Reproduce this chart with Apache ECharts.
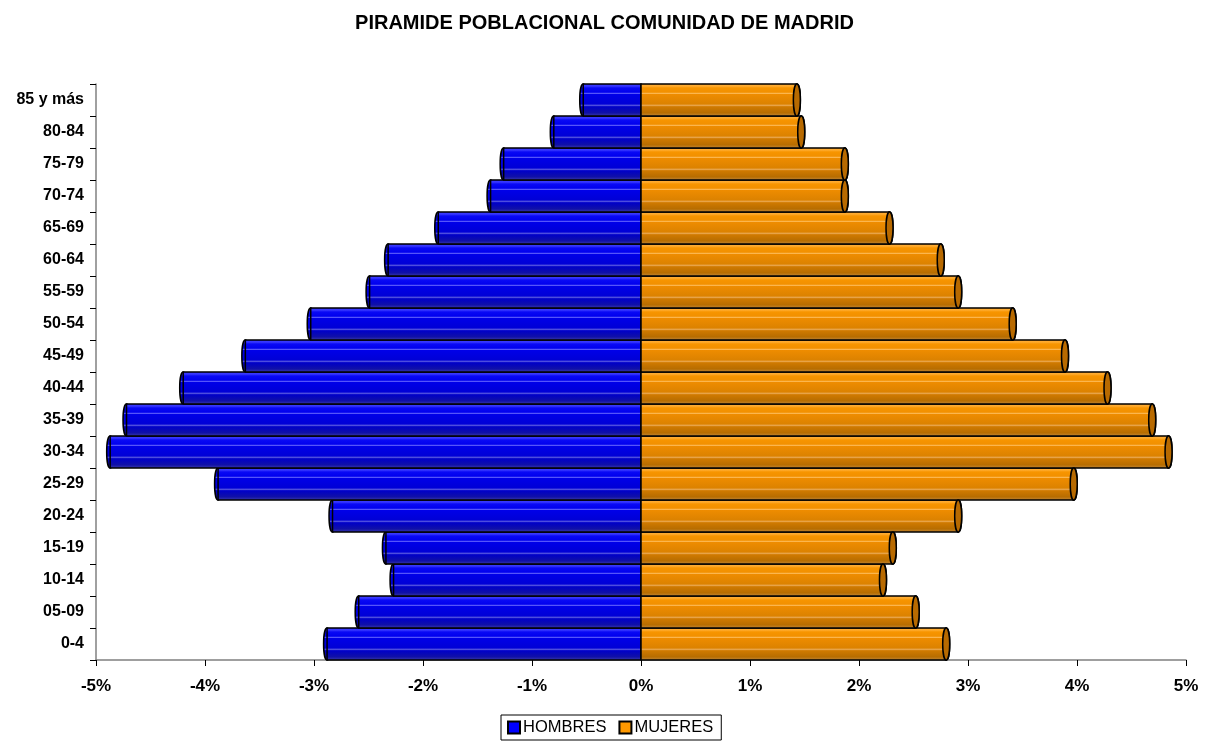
<!DOCTYPE html>
<html>
<head>
<meta charset="utf-8">
<script src="https://cdn.jsdelivr.net/npm/echarts@6/dist/echarts.min.js"></script>
<style>html,body{margin:0;padding:0;background:#fff;}#c{width:1209px;height:743px;}</style>
</head>
<body>
<div id="c"></div>
<script>
const categories = ['0-4','05-09','10-14','15-19','20-24','25-29','30-34','35-39','40-44','45-49','50-54','55-59','60-64','65-69','70-74','75-79','80-84','85 y más'];
const hombres = [-2.88,-2.59,-2.27,-2.34,-2.83,-3.88,-4.87,-4.72,-4.20,-3.63,-3.03,-2.49,-2.32,-1.86,-1.38,-1.26,-0.80,-0.53];
const mujeres = [2.80,2.52,2.22,2.31,2.91,3.97,4.84,4.69,4.28,3.89,3.41,2.91,2.75,2.28,1.87,1.87,1.47,1.43];
const xTicks = [-5,-4,-3,-2,-1,0,1,2,3,4,5];

const G = echarts.graphic;
function blueGrad(){
  return new G.LinearGradient(0,0,0,1,[
    {offset:0,color:'#1f1fff'},{offset:0.08,color:'#3c3cff'},{offset:0.14,color:'#0a0af5'},
    {offset:0.27,color:'#0000ee'},{offset:0.30,color:'#6a6aff'},{offset:0.33,color:'#0000e8'},
    {offset:0.62,color:'#0000d6'},{offset:0.66,color:'#5656e0'},{offset:0.70,color:'#0000c8'},
    {offset:0.88,color:'#1010a8'},{offset:1,color:'#4040a8'}]);
}
function orangeGrad(){
  return new G.LinearGradient(0,0,0,1,[
    {offset:0,color:'#ffa21f'},{offset:0.08,color:'#ffad33'},{offset:0.14,color:'#f79500'},
    {offset:0.27,color:'#f29000'},{offset:0.30,color:'#ffc060'},{offset:0.33,color:'#ee8c00'},
    {offset:0.62,color:'#dc8200'},{offset:0.66,color:'#eaa850'},{offset:0.70,color:'#d07a00'},
    {offset:0.88,color:'#b86d00'},{offset:1,color:'#c08a40'}]);
}
function makeRender(isLeft){
  return function(params, api){
    const v = api.value(0), c = api.value(1);
    const p0 = api.coord([0, c]);
    const p1 = api.coord([v, c]);
    const h = api.size([0,1])[1];
    const y = p0[1] - h/2;
    const x = Math.min(p0[0], p1[0]);
    const w = Math.abs(p1[0] - p0[0]);
    const grad = isLeft ? blueGrad() : orangeGrad();
    return {
      type:'group',
      children:[
        {type:'ellipse', shape:{cx:p1[0], cy:p0[1], rx:3.5, ry:h/2}, style:{fill: isLeft ? blueGrad() : '#b86a00', stroke:'#000', lineWidth:1.5}, z2:1},
        {type:'rect', shape:{x:x, y:y, width:w, height:h}, style:{fill:grad, stroke:'#000', lineWidth:1.5}, z2:2},
        {type:'ellipse', shape:{cx:p1[0], cy:p0[1], rx:3.5, ry:h/2}, style:{fill: isLeft ? 'rgba(0,0,0,0)' : '#b86a00', stroke: isLeft ? 'rgba(0,0,0,0)' : '#000', lineWidth:1.5}, z2:3}
      ]
    };
  };
}
const chart = echarts.init(document.getElementById('c'), null, {renderer:'canvas'});
chart.setOption({
  animation:false,
  backgroundColor:'#fff',
  title:{text:'PIRAMIDE POBLACIONAL COMUNIDAD DE MADRID', left:'center', top:8,
    textStyle:{fontFamily:'Liberation Sans, Arial', fontWeight:'bold', fontSize:20, color:'#000'}},
  legend:{left:501, top:715, itemWidth:12, itemHeight:12, itemGap:12, padding:[4,8,4,6],
    borderColor:'#000', borderWidth:1,
    textStyle:{fontFamily:'Liberation Sans, Arial', fontSize:16.5, color:'#000', padding:[0,0,0,-2]},
    data:[{name:'HOMBRES', icon:'rect'},{name:'MUJERES', icon:'rect'}]},
  grid:{left:96, right:23, top:84, bottom:83},
  xAxis:{type:'value', min:xTicks[0], max:xTicks[xTicks.length-1], interval:1,
    axisLine:{show:true, lineStyle:{color:'#808080', width:1.5}},
    axisTick:{show:true, length:6, lineStyle:{color:'#000'}},
    splitLine:{show:false},
    axisLabel:{formatter:v=>v+'%', fontFamily:'Liberation Sans, Arial', fontWeight:'bold', fontSize:17, color:'#000', margin:18}},
  yAxis:{type:'category', data:categories, boundaryGap:true,
    axisLine:{show:true, onZero:false, lineStyle:{color:'#808080', width:1.5}},
    axisTick:{show:true, length:6, lineStyle:{color:'#000'}},
    axisLabel:{fontFamily:'Liberation Sans, Arial', fontWeight:'bold', fontSize:16, color:'#000', margin:12}},
  series:[
    {name:'HOMBRES', type:'custom', renderItem:makeRender(true), encode:{x:0,y:1},
      itemStyle:{color:'#0000ff', borderColor:'#000', borderWidth:1},
      data:hombres.map((v,i)=>[v,i])},
    {name:'MUJERES', type:'custom', renderItem:makeRender(false), encode:{x:0,y:1},
      itemStyle:{color:'#ff9900', borderColor:'#000', borderWidth:1},
      data:mujeres.map((v,i)=>[v,i])}
  ]
});
</script>
</body>
</html>
